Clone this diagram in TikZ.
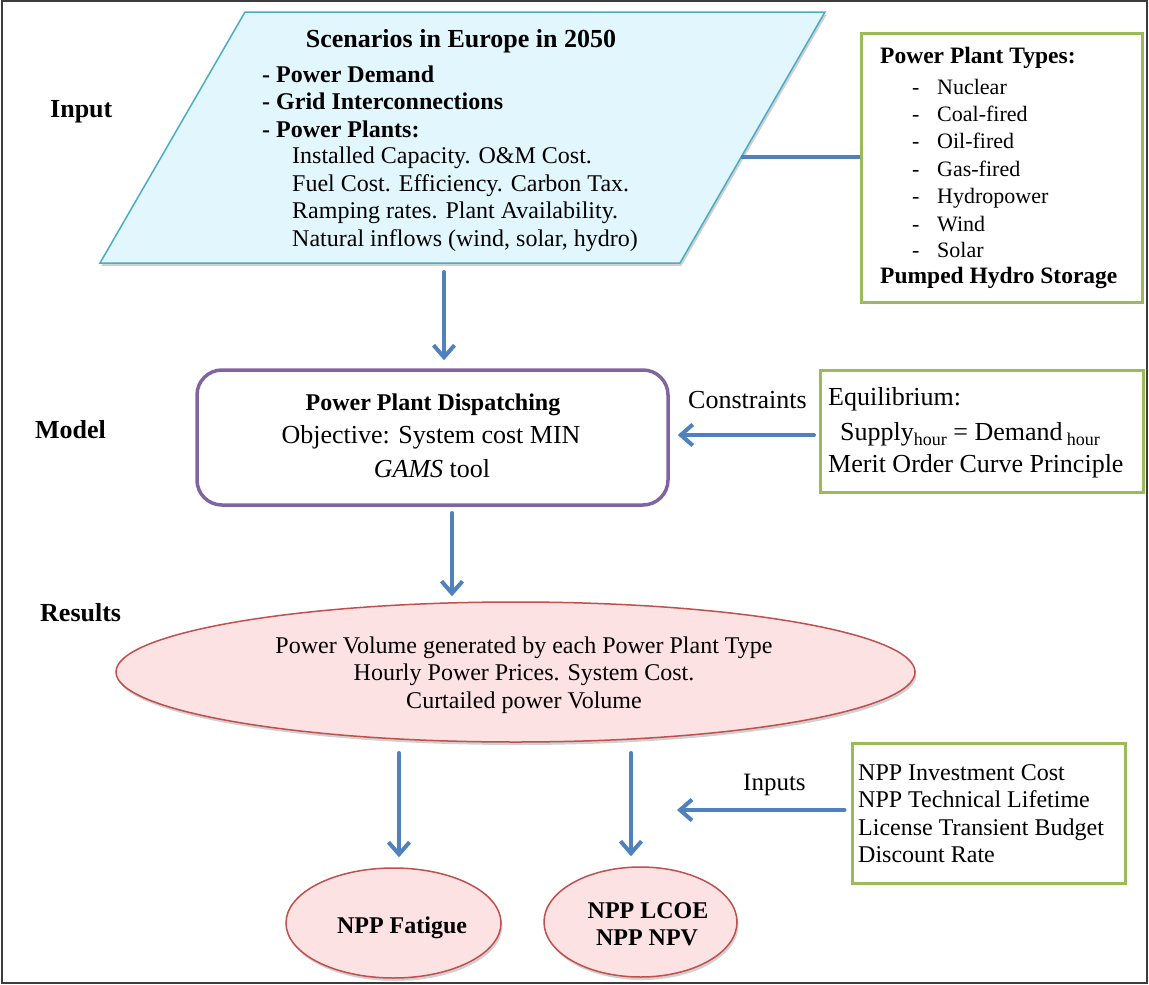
\documentclass[tikz,border=0pt]{standalone}
\usepackage{fontspec}
\setmainfont{Liberation Serif}
\usetikzlibrary{arrows.meta,shapes.geometric,shadows,calc}
\definecolor{arrblue}{HTML}{4F81BD}
\definecolor{boxgreen}{HTML}{9BBB59}
\definecolor{modpurple}{HTML}{8064A2}
\definecolor{resred}{HTML}{C0504D}
\definecolor{respink}{HTML}{FDE2E3}
\definecolor{scenfill}{HTML}{E2F6FD}
\definecolor{scenline}{HTML}{4BACC6}
\definecolor{framegray}{HTML}{3C3C3C}
\newcommand\fsz[1]{\fontsize{#1}{#1}\selectfont}
\begin{document}
\begin{tikzpicture}[x=1pt,y=-1pt,
  arr/.style={draw=arrblue,line width=4pt,line cap=round,-{Straight Barb[length=12pt,width=21pt]}},
  link/.style={draw=arrblue,line width=4pt},
  greenbox/.style={draw=boxgreen,line width=3pt,inner sep=0pt},
  pinkell/.style={ellipse,draw=resred,fill=respink,line width=1.5pt,inner sep=0pt,shad},
  shad/.style={drop shadow={shadow xshift=1.5pt,shadow yshift=-3pt,opacity=0.3,fill=black!60}},
  txt/.style={inner sep=0pt,anchor=base west},
  ctxt/.style={inner sep=0pt,anchor=base},
]
\useasboundingbox (0,0) rectangle (1149,985);
\draw[framegray,line width=2pt] (2,1) rectangle (1147,983);

% ---------- Input parallelogram ----------
\coordinate (BL) at (100,263);
\coordinate (TL) at (245,12);
\coordinate (TR) at (825,12);
\coordinate (BR) at (680,263);
\filldraw[fill=scenfill,draw=scenline,line width=1.5pt,shad] (BL) -- (TL) -- (TR) -- (BR) -- cycle;
\node[ctxt,font=\fsz{26}\bfseries] (scentitle) at (461,47) {Scenarios in Europe in 2050};
\node[txt,font=\fsz{24}\bfseries] (s1) at (262,82) {- Power Demand};
\node[txt,font=\fsz{24}\bfseries] (s2) at (262,109) {- Grid Interconnections};
\node[txt,font=\fsz{24}\bfseries] (s3) at (262,137) {- Power Plants:};
\node[txt,font=\fsz{24}] (s4) at (292,163) {Installed Capacity. O\&M Cost.};
\node[txt,font=\fsz{24}] (s5) at (292,191) {Fuel Cost. Efficiency. Carbon Tax.};
\node[txt,font=\fsz{24}] (s6) at (292,218) {Ramping rates. Plant Availability.};
\node[txt,font=\fsz{24}] (s7) at (292,246) {Natural inflows (wind, solar, hydro)};

% ---------- Power plant types ----------
\node[greenbox,minimum width=281pt,minimum height=269pt] (types) at (1001.5,167.5) {};
\node[txt,font=\fsz{23.5}\bfseries] (tt) at (880,63) {Power Plant Types:};
\foreach \n/\t/\y in {t1/Nuclear/94,t2/Coal-fired/121,t3/Oil-fired/148,t4/Gas-fired/176,t5/Hydropower/203,t6/Wind/231,t7/Solar/257}{
  \node[txt,font=\fsz{22}] (\n d) at (912,\y) {-};
  \node[txt,font=\fsz{22}] (\n) at (937,\y) {\t};
}
\node[txt,font=\fsz{23.5}\bfseries] (tp) at (880,283) {Pumped Hydro Storage};

\coordinate (scenright) at ($(TR)!0.578!(BR)$);
\draw[link] (scenright) -- (scenright -| types.west);

% ---------- Side labels ----------
\node[txt,font=\fsz{26}\bfseries] (linput) at (50,117) {Input};
\node[txt,font=\fsz{26}\bfseries] (lmodel) at (35,438) {Model};
\node[txt,font=\fsz{26}\bfseries] (lres) at (40,621) {Results};

% ---------- Model ----------
\node[draw=modpurple,line width=3.5pt,rounded corners=25pt,minimum width=471pt,minimum height=135pt,inner sep=0pt] (model) at (432.5,437.5) {};
\node[ctxt,font=\fsz{24}\bfseries] (m1) at (433,410) {Power Plant Dispatching};
\node[ctxt,font=\fsz{26}] (m2) at (431,443) {Objective: System cost MIN};
\node[ctxt,font=\fsz{26}] (m3) at (432,477) {\textit{GAMS} tool};

\coordinate (scenbot) at (444,263);
\draw[arr,shorten <=9pt,shorten >=8pt] (scenbot) -- (scenbot |- model.north);

% ---------- Constraints ----------
\node[greenbox,minimum width=323pt,minimum height=122pt] (eqbox) at (981.5,431) {};
\node[txt,font=\fsz{26}] (lcons) at (688,408) {Constraints};
\node[txt,font=\fsz{26}] (e1) at (828,405) {Equilibrium:};
\node[txt,font=\fsz{26}] (e2) at (840,440) {Supply{\fsz{18}\raisebox{-5pt}{hour}} = Demand\,{\fsz{18}\raisebox{-5pt}{hour}}};
\node[txt,font=\fsz{26}] (e3) at (828,472) {Merit Order Curve Principle};
\coordinate (eqin) at (820,435);
\draw[arr,shorten <=6pt,shorten >=8pt] (eqin) -- (eqin -| model.east);

% ---------- Results ----------
\node[pinkell,minimum width=799pt,minimum height=140pt] (res) at (515.5,672) {};
\node[ctxt,font=\fsz{24}] (r1t) at (524,653) {Power Volume generated by each Power Plant Type};
\node[ctxt,font=\fsz{24}] (r2t) at (524,680) {Hourly Power Prices. System Cost.};
\node[ctxt,font=\fsz{24}] (r3t) at (524,708) {Curtailed power Volume};
\coordinate (modbot) at (452,505);
\draw[arr,shorten <=8pt,shorten >=5pt] (modbot) -- (modbot |- res.north);

% ---------- Outputs ----------
\node[pinkell,minimum width=215pt,minimum height=110pt] (fat) at (393.5,923) {};
\node[ctxt,font=\fsz{24}\bfseries] (fatt) at (402,933) {NPP Fatigue};
\node[pinkell,minimum width=193pt,minimum height=110pt] (lcoe) at (640.5,922) {};
\node[ctxt,font=\fsz{24}\bfseries] (lc1) at (648,918) {NPP LCOE};
\node[ctxt,font=\fsz{24}\bfseries] (lc2) at (647,945) {NPP NPV};

\coordinate (ra) at (399,742);
\coordinate (rb) at (631,742);
\draw[arr,shorten <=11pt,shorten >=10pt] (ra) -- (ra |- fat.north);
\draw[arr,shorten <=11pt,shorten >=10pt] (rb) -- (rb |- lcoe.north);

% ---------- Inputs ----------
\node[greenbox,minimum width=273pt,minimum height=140pt] (inbox) at (988.5,813) {};
\node[txt,font=\fsz{24}] (i1) at (858,780) {NPP Investment Cost};
\node[txt,font=\fsz{24}] (i2) at (858,807) {NPP Technical Lifetime};
\node[txt,font=\fsz{24}] (i3) at (858,835) {License Transient Budget};
\node[txt,font=\fsz{24}] (i4) at (858,862) {Discount Rate};
\node[txt,font=\fsz{25}] (linp) at (743,790) {Inputs};
\coordinate (inpt) at (677,810);
\draw[arr,shorten <=6pt] (inbox.west |- inpt) -- (inpt);
\end{tikzpicture}
\end{document}
